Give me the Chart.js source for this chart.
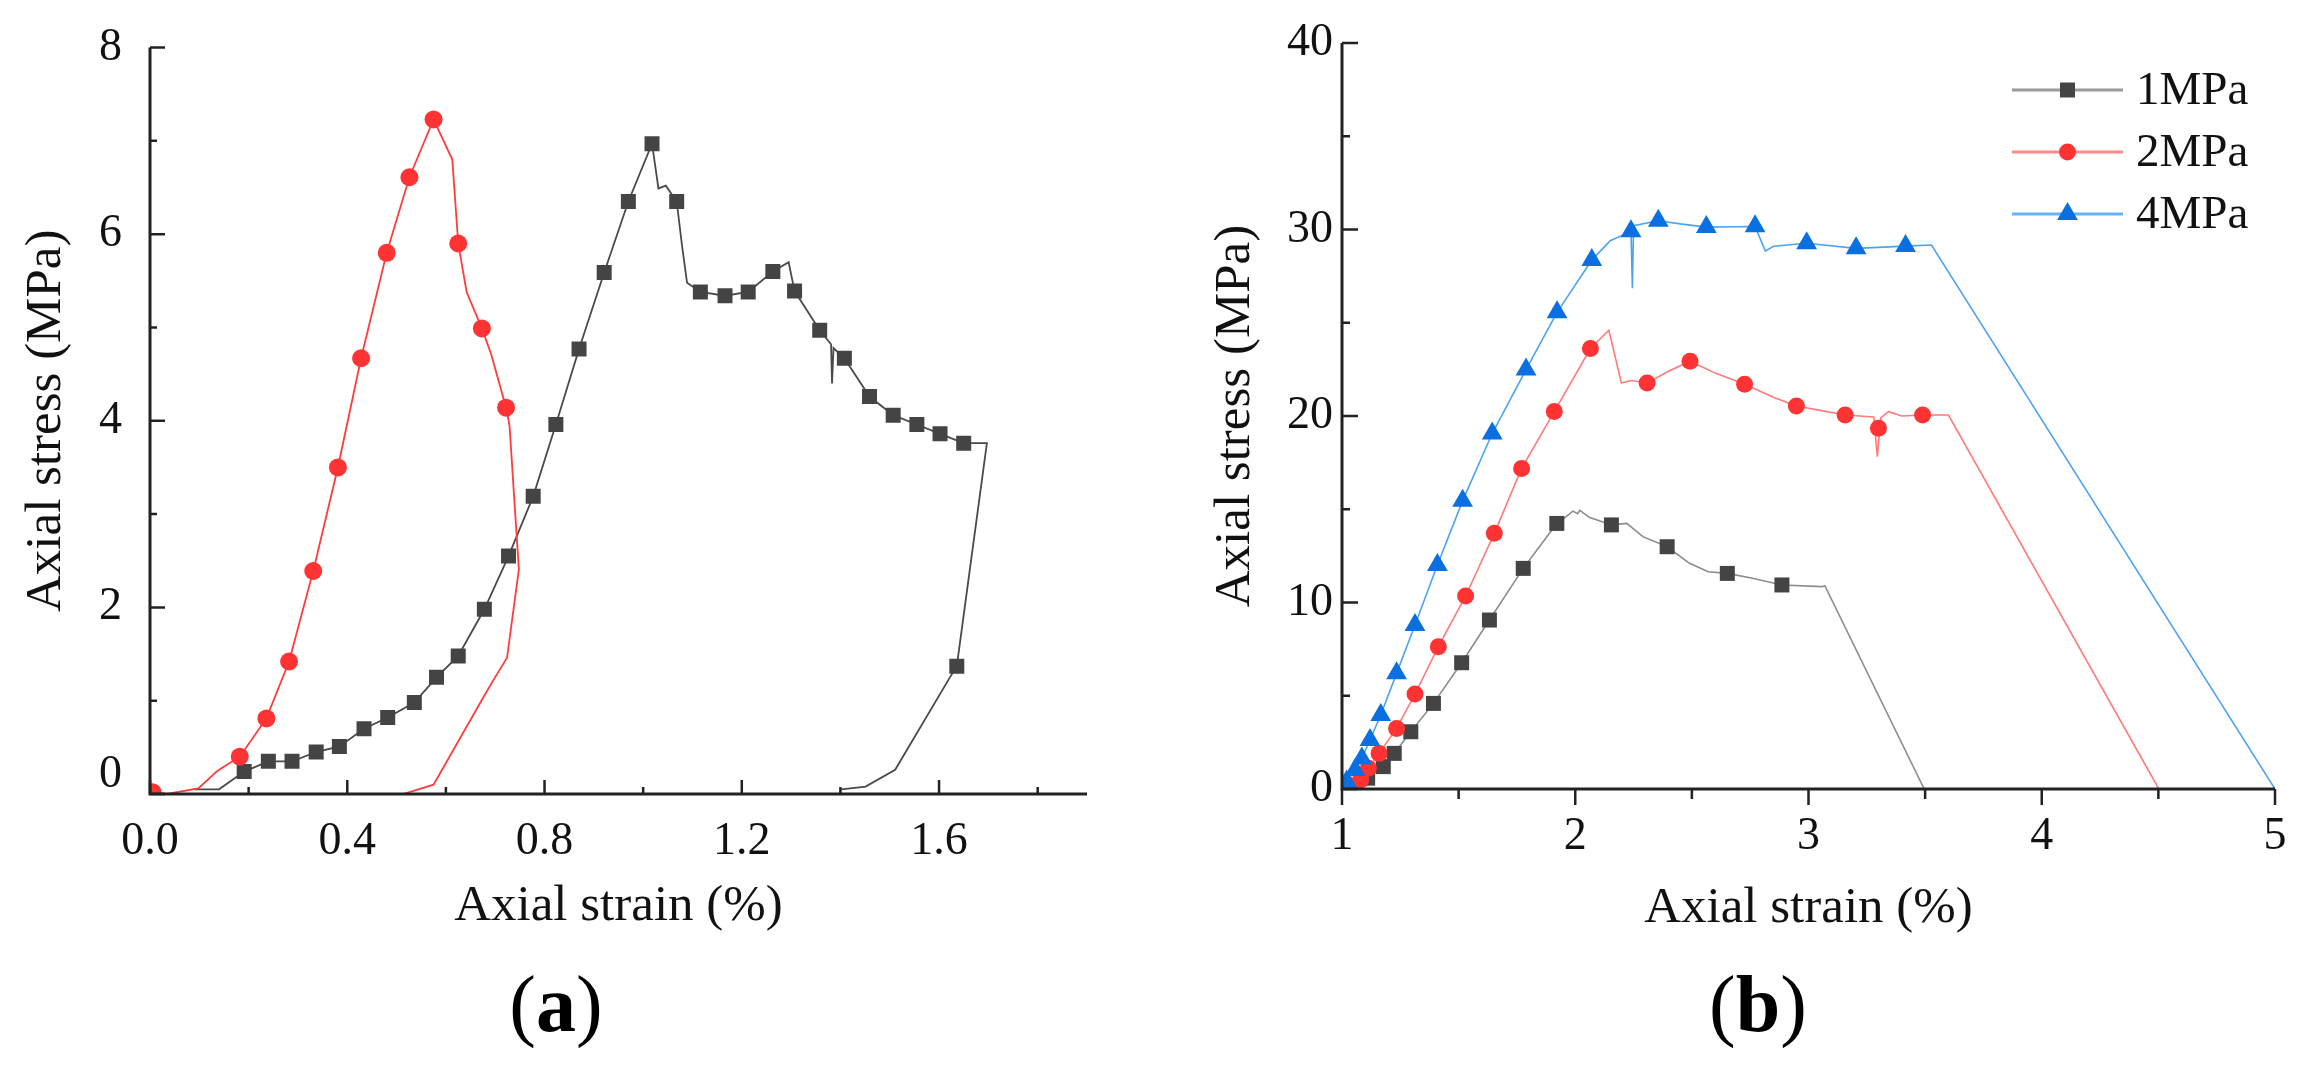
<!DOCTYPE html>
<html>
<head>
<meta charset="utf-8">
<script src="https://cdn.jsdelivr.net/npm/chart.js@4.4.1/dist/chart.umd.min.js"></script>
<style>
  html, body { margin: 0; padding: 0; background: #fff; }
  body { width: 2317px; height: 1071px; position: relative; overflow: hidden; font-family: 'Liberation Serif', 'Times New Roman', serif; }
  canvas { position: absolute; top: 0; }
  #chartA { left: 0; }
  #chartB { left: 1160px; }
  .tag { position: absolute; top: 964px; width: 200px; text-align: center; font-size: 80px; line-height: 1; color: #000; }
</style>
</head>
<body>
<canvas id="chartA" width="1160" height="960"></canvas>
<canvas id="chartB" width="1157" height="960"></canvas>
<div class="tag" style="left:456px">(<b>a</b>)</div>
<div class="tag" style="left:1658px">(<b>b</b>)</div>
<script>
// ---- panel (a) : curve with squares
const aStrainSq = [0.090, 0.140, 0.191, 0.240, 0.288, 0.337, 0.384, 0.434, 0.482, 0.536, 0.581, 0.625, 0.678, 0.727, 0.777, 0.823, 0.870, 0.921, 0.970, 1.018, 1.031, 1.046, 1.068, 1.079, 1.089, 1.116, 1.166, 1.213, 1.263, 1.295, 1.307, 1.358, 1.381, 1.383, 1.386, 1.408, 1.459, 1.507, 1.555, 1.602, 1.650, 1.697, 1.636, 1.622, 1.511, 1.451, 1.402];
const aStressSq = [0.05, 0.05, 0.24, 0.35, 0.35, 0.45, 0.51, 0.70, 0.82, 0.98, 1.25, 1.48, 1.98, 2.55, 3.19, 3.96, 4.77, 5.59, 6.35, 6.97, 6.49, 6.52, 6.35, 5.87, 5.48, 5.38, 5.34, 5.38, 5.60, 5.70, 5.39, 4.97, 4.82, 4.40, 4.78, 4.67, 4.26, 4.06, 3.96, 3.86, 3.76, 3.76, 1.37, 1.25, 0.26, 0.08, 0.05];
const aMarkStrainSq = [0.191, 0.240, 0.288, 0.337, 0.384, 0.434, 0.482, 0.536, 0.581, 0.625, 0.678, 0.727, 0.777, 0.823, 0.870, 0.921, 0.970, 1.018, 1.068, 1.116, 1.166, 1.213, 1.263, 1.307, 1.358, 1.408, 1.459, 1.507, 1.555, 1.602, 1.650, 1.636];
const aMarkStressSq = [0.24, 0.35, 0.35, 0.45, 0.51, 0.70, 0.82, 0.98, 1.25, 1.48, 1.98, 2.55, 3.19, 3.96, 4.77, 5.59, 6.35, 6.97, 6.35, 5.38, 5.34, 5.38, 5.60, 5.39, 4.97, 4.67, 4.26, 4.06, 3.96, 3.86, 3.76, 1.37];

// ---- panel (a) : curve with circles
const aStrainCi = [0.005, 0.034, 0.098, 0.137, 0.182, 0.236, 0.282, 0.331, 0.381, 0.428, 0.480, 0.526, 0.575, 0.613, 0.625, 0.642, 0.673, 0.692, 0.722, 0.729, 0.741, 0.748, 0.724, 0.695, 0.672, 0.575, 0.513, 0.460];
const aStressCi = [0.02, 0.00, 0.06, 0.25, 0.40, 0.81, 1.42, 2.39, 3.50, 4.67, 5.80, 6.61, 7.23, 6.80, 5.90, 5.38, 4.99, 4.71, 4.14, 3.95, 2.97, 2.41, 1.46, 1.21, 1.00, 0.10, 0.00, 0.00];
const aMarkStrainCi = [0.005, 0.182, 0.236, 0.282, 0.331, 0.381, 0.428, 0.480, 0.526, 0.575, 0.625, 0.673, 0.722];
const aMarkStressCi = [0.02, 0.40, 0.81, 1.42, 2.39, 3.50, 4.67, 5.80, 6.61, 7.23, 5.90, 4.99, 4.14];

const aXTicks = [0, 0.4, 0.8, 1.2, 1.6];
const aXMinor = [0.2, 0.6, 1.0, 1.4, 1.8];
const aYTicks = [0, 2, 4, 6, 8];
const aYMinor = [1, 3, 5, 7];

// ---- panel (b)
const seriesNames = ['1MPa', '2MPa', '4MPa'];

const bStrain1 = [1.000, 1.050, 1.110, 1.177, 1.224, 1.295, 1.392, 1.513, 1.632, 1.777, 1.921, 1.950, 1.990, 2.010, 2.020, 2.060, 2.155, 2.221, 2.290, 2.394, 2.490, 2.570, 2.652, 2.760, 2.886, 3.058, 3.070, 3.496];
const bStress1 = [0.00, 0.05, 0.58, 1.20, 1.91, 3.07, 4.59, 6.77, 9.06, 11.83, 14.24, 14.50, 14.90, 14.76, 14.94, 14.57, 14.16, 14.24, 13.53, 12.99, 12.10, 11.65, 11.56, 11.30, 10.94, 10.85, 10.90, 0.00];
const bMarkStrain1 = [1.050, 1.110, 1.177, 1.224, 1.295, 1.392, 1.513, 1.632, 1.777, 1.921, 2.155, 2.394, 2.652, 2.886];
const bMarkStress1 = [0.05, 0.58, 1.20, 1.91, 3.07, 4.59, 6.77, 9.06, 11.83, 14.24, 14.16, 12.99, 11.56, 10.94];

const bStrain2 = [1.000, 1.030, 1.080, 1.113, 1.159, 1.234, 1.313, 1.413, 1.530, 1.653, 1.770, 1.910, 2.065, 2.144, 2.198, 2.240, 2.308, 2.400, 2.492, 2.600, 2.726, 2.850, 2.948, 3.050, 3.157, 3.280, 3.295, 3.310, 3.343, 3.400, 3.489, 3.600, 4.502];
const bStress2 = [0.00, 0.20, 0.48, 1.11, 1.91, 3.25, 5.09, 7.63, 10.35, 13.71, 17.19, 20.24, 23.62, 24.60, 21.77, 21.90, 21.77, 22.40, 22.94, 22.30, 21.70, 21.00, 20.54, 20.30, 20.05, 19.95, 17.82, 19.90, 20.23, 20.00, 20.05, 20.05, 0.00];
const bMarkStrain2 = [1.030, 1.080, 1.113, 1.159, 1.234, 1.313, 1.413, 1.530, 1.653, 1.770, 1.910, 2.065, 2.308, 2.492, 2.726, 2.948, 3.157, 3.300, 3.489];
const bMarkStress2 = [0.20, 0.48, 1.11, 1.91, 3.25, 5.09, 7.63, 10.35, 13.71, 17.19, 20.24, 23.62, 21.77, 22.94, 21.70, 20.54, 20.05, 19.34, 20.05];

const bStrain4 = [1.000, 1.020, 1.056, 1.085, 1.120, 1.166, 1.234, 1.313, 1.409, 1.517, 1.644, 1.789, 1.922, 2.071, 2.150, 2.239, 2.245, 2.250, 2.356, 2.450, 2.562, 2.700, 2.771, 2.815, 2.850, 2.992, 3.204, 3.416, 3.527, 5.000];
const bStress4 = [0.05, 0.40, 1.02, 1.64, 2.63, 3.97, 6.20, 8.79, 12.01, 15.45, 19.06, 22.49, 25.56, 28.36, 29.40, 29.90, 26.85, 30.20, 30.47, 30.30, 30.13, 30.15, 30.17, 28.84, 29.10, 29.26, 28.99, 29.11, 29.17, 0.00];
const bMarkStrain4 = [1.000, 1.020, 1.056, 1.085, 1.120, 1.166, 1.234, 1.313, 1.409, 1.517, 1.644, 1.789, 1.922, 2.071, 2.239, 2.356, 2.562, 2.771, 2.992, 3.204, 3.416];
const bMarkStress4 = [0.05, 0.40, 1.02, 1.64, 2.63, 3.97, 6.20, 8.79, 12.01, 15.45, 19.06, 22.49, 25.56, 28.36, 29.90, 30.47, 30.13, 30.17, 29.26, 28.99, 29.11];

const bXTicks = [1, 2, 3, 4, 5];
const bXMinor = [1.5, 2.5, 3.5, 4.5];
const bYTicks = [0, 10, 20, 30, 40];
const bYMinor = [5, 15, 25, 35];

Chart.defaults.font.family = "'Liberation Serif', 'Times New Roman', serif";
Chart.defaults.color = '#111';

const pts = (xs, ys) => xs.map((x, i) => ({ x: x, y: ys[i] }));

function lineSet(xs, ys, color, width) {
  return { data: pts(xs, ys), showLine: true, borderColor: color, borderWidth: width,
           pointRadius: 0, fill: false, tension: 0 };
}
function markSet(xs, ys, color, style, r) {
  return { data: pts(xs, ys), showLine: false, pointStyle: style, pointRadius: r,
           backgroundColor: color, borderColor: color, pointBorderWidth: 0 };
}

// axis lines and tick marks (Origin style)
const axisMarks = {
  id: 'axisMarks',
  afterDatasetsDraw(chart, args, o) {
    const { ctx, chartArea: a, scales: { x, y } } = chart;
    ctx.save();
    ctx.strokeStyle = '#222';
    ctx.lineWidth = 3;
    ctx.beginPath();
    ctx.moveTo(a.left, a.top);
    ctx.lineTo(a.left, a.bottom + 1.5);
    ctx.moveTo(a.left - 1.5, a.bottom);
    ctx.lineTo(a.right, a.bottom);
    ctx.stroke();
    ctx.lineWidth = 2.5;
    ctx.beginPath();
    o.xMajor.forEach(v => { const p = x.getPixelForValue(v); ctx.moveTo(p, a.bottom); ctx.lineTo(p, a.bottom + o.xDir * o.xLen[0]); });
    o.xMinor.forEach(v => { const p = x.getPixelForValue(v); ctx.moveTo(p, a.bottom); ctx.lineTo(p, a.bottom + o.xDir * o.xLen[1]); });
    o.yMajor.forEach(v => { const p = y.getPixelForValue(v); ctx.moveTo(a.left, p); ctx.lineTo(a.left + o.yLen[0], p); });
    o.yMinor.forEach(v => { const p = y.getPixelForValue(v); ctx.moveTo(a.left, p); ctx.lineTo(a.left + o.yLen[1], p); });
    ctx.stroke();
    ctx.restore();
  }
};

function drawMarker(ctx, style, r, cx, cy) {
  ctx.beginPath();
  if (style === 'rect') {
    const s = Math.SQRT1_2 * r;
    ctx.rect(cx - s, cy - s, 2 * s, 2 * s);
  } else if (style === 'triangle') {
    for (let k = 0; k < 3; k++) {
      const ang = k * 2 * Math.PI / 3;
      const px = cx + Math.sin(ang) * r, py = cy - Math.cos(ang) * r;
      if (k === 0) ctx.moveTo(px, py); else ctx.lineTo(px, py);
    }
    ctx.closePath();
  } else {
    ctx.arc(cx, cy, r, 0, Math.PI * 2);
  }
  ctx.fill();
}

// legend: short line + marker + name
const sideLegend = {
  id: 'sideLegend',
  afterDraw(chart, args, o) {
    if (!o.items) return;
    const ctx = chart.ctx;
    ctx.save();
    ctx.font = "47px 'Liberation Serif', 'Times New Roman', serif";
    ctx.textBaseline = 'middle';
    ctx.fillStyle = '#111';
    o.items.forEach((it, i) => {
      const yy = o.top + i * o.gap;
      ctx.strokeStyle = it.line;
      ctx.lineWidth = 3;
      ctx.beginPath();
      ctx.moveTo(o.x0, yy);
      ctx.lineTo(o.x1, yy);
      ctx.stroke();
      ctx.fillStyle = it.mark;
      drawMarker(ctx, it.style, it.r, (o.x0 + o.x1) / 2, yy);
      ctx.fillStyle = '#111';
      ctx.fillText(it.name, o.textX, yy + 2);
    });
    ctx.restore();
  }
};

function makeScales(o) {
  return {
    x: {
      type: 'linear', min: o.xMin, max: o.xMax,
      afterBuildTicks: s => { s.ticks = o.xTicks.map(v => ({ value: v })); },
      afterFit: s => { s.height = o.xHeight; },
      grid: { display: false, drawTicks: false },
      border: { display: false },
      ticks: { padding: 20, autoSkip: false, maxRotation: 0, color: '#111', font: { size: 46 }, callback: o.xFmt },
      title: { display: true, text: 'Axial strain (%)', color: '#111', font: { size: 51 }, padding: { top: 0, bottom: o.xTitlePad } }
    },
    y: {
      type: 'linear', min: o.yMin, max: o.yMax,
      afterBuildTicks: s => { s.ticks = o.yTicks.map(v => ({ value: v })); },
      afterFit: s => { s.width = o.yWidth; },
      grid: { display: false, drawTicks: false },
      border: { display: false },
      ticks: { padding: o.yPad, autoSkip: false, color: '#111', font: { size: 46, lineHeight: o.yLineHeight }, callback: o.yFmt },
      title: { display: true, text: 'Axial stress (MPa)', color: '#111', font: { size: 51 }, padding: { top: o.yTitlePad, bottom: 0 } }
    }
  };
}

const common = {
  responsive: false, animation: false, devicePixelRatio: 1, events: [],
};

new Chart(document.getElementById('chartA'), {
  type: 'scatter',
  data: {
    datasets: [
      markSet(aMarkStrainCi, aMarkStressCi, '#ff3333', 'circle', 9),
      markSet(aMarkStrainSq, aMarkStressSq, '#444444', 'rect', 10.6),
      lineSet(aStrainCi, aStressCi, '#ff3b3b', 1.8),
      lineSet(aStrainSq, aStressSq, '#4a4a4a', 1.8)
    ]
  },
  options: Object.assign({}, common, {
    layout: { padding: { left: 0, top: 38, right: 73, bottom: 0 } },
    scales: makeScales({
      xMin: 0, xMax: 1.9, xTicks: aXTicks, xHeight: 166, xTitlePad: 23, xFmt: v => v.toFixed(1),
      yMin: 0, yMax: 8, yTicks: aYTicks, yWidth: 150, yPad: 28, yTitlePad: 16, yLineHeight: 0.85,
      // the zero label sits a little above the axis in the original
      yFmt: v => (v === 0 ? ['0', ''] : String(v))
    }),
    plugins: {
      legend: { display: false }, tooltip: { enabled: false },
      axisMarks: { xMajor: aXTicks, xMinor: aXMinor, yMajor: aYTicks, yMinor: aYMinor, xDir: -1, xLen: [14, 7], yLen: [15, 7] }
    }
  }),
  plugins: [axisMarks]
});

new Chart(document.getElementById('chartB'), {
  type: 'scatter',
  data: {
    datasets: [
      markSet(bMarkStrain4, bMarkStress4, '#0a6fe0', 'triangle', 12),
      markSet(bMarkStrain2, bMarkStress2, '#ff3333', 'circle', 8.5),
      markSet(bMarkStrain1, bMarkStress1, '#444444', 'rect', 10.6),
      lineSet(bStrain4, bStress4, '#4da3f0', 1.6),
      lineSet(bStrain2, bStress2, '#ff7a7a', 1.6),
      lineSet(bStrain1, bStress1, '#8c8c8c', 1.6)
    ]
  },
  options: Object.assign({}, common, {
    layout: { padding: { left: 0, top: 43, right: 42, bottom: 0 } },
    scales: makeScales({
      xMin: 1, xMax: 5, xTicks: bXTicks, xHeight: 171, xTitlePad: 21, xFmt: v => String(v),
      yMin: 0, yMax: 40, yTicks: bYTicks, yWidth: 182, yPad: 9, yTitlePad: 45, yLineHeight: 1.2,
      yFmt: v => String(v)
    }),
    plugins: {
      legend: { display: false }, tooltip: { enabled: false },
      axisMarks: { xMajor: bXTicks, xMinor: bXMinor, yMajor: bYTicks, yMinor: bYMinor, xDir: 1, xLen: [16, 10], yLen: [16, 8] },
      sideLegend: {
        x0: 852, x1: 963, textX: 976, top: 90, gap: 62,
        items: [
          { name: seriesNames[0], line: '#9a9a9a', mark: '#444444', style: 'rect', r: 10.6 },
          { name: seriesNames[1], line: '#ff8a8a', mark: '#ff3333', style: 'circle', r: 8.5 },
          { name: seriesNames[2], line: '#66b3f5', mark: '#0a6fe0', style: 'triangle', r: 12 }
        ]
      }
    }
  }),
  plugins: [axisMarks, sideLegend]
});
</script>
</body>
</html>
